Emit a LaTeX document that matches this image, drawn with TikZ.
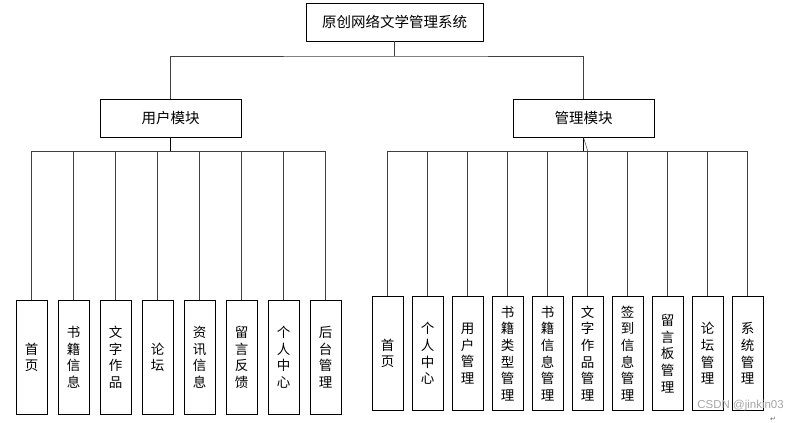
\documentclass[tikz,border=0pt]{standalone}
\usepackage{fontspec}
\setmainfont{Noto Sans CJK SC}
\newfontfamily\wmfont{Liberation Sans}
\newfontfamily\symfont{DejaVu Sans}
\begin{document}
\begin{tikzpicture}[x=1pt,y=-1pt,
  box/.style={draw=black,line width=0.9pt,fill=white,inner sep=0pt,font=\fontsize{14.5}{16}\selectfont},
  leaf/.style={box,minimum width=31pt,align=center,font=\fontsize{13.5}{16.7}\selectfont},
  conn/.style={draw=black!75,line width=0.9pt}]
\useasboundingbox (0,0) rectangle (798,423);
\fill[white] (0,0) rectangle (798,423);
% top and modules
\node[box,minimum width=177pt,minimum height=38pt] (top) at (394.5,22) {原创网络文学管理系统};
\node[box,minimum width=141pt,minimum height=38pt] (user) at (170.5,118) {用户模块};
\node[box,minimum width=141pt,minimum height=38pt] (admin) at (583.5,118) {管理模块};
\coordinate (j0) at (394.5,56);
\draw[conn] (top.south) -- (j0);
\draw[conn] (user.north) |- (j0) -| (admin.north);
% user children
\foreach \t [count=\i from 0] in {首\\页,书\\籍\\信\\息,文\\字\\作\\品,论\\坛,资\\讯\\信\\息,留\\言\\反\\馈,个\\人\\中\\心,后\\台\\管\\理}{
  \node[leaf,minimum height=114.7pt] (uc\i) at (31.5+42*\i,357.3) {\t};
}
\coordinate (ju) at (170.5,151);
\draw[conn,draw=black] (user.south) -- (ju);
\foreach \i in {0,...,7}{\draw[conn] (ju) -| (uc\i.north);}
% admin children
\foreach \t [count=\i from 0] in {首\\页,个\\人\\中\\心,用\\户\\管\\理,书\\籍\\类\\型\\管\\理,书\\籍\\信\\息\\管\\理,文\\字\\作\\品\\管\\理,签\\到\\信\\息\\管\\理,留\\言\\板\\管\\理,论\\坛\\管\\理,系\\统\\管\\理}{
  \node[leaf,minimum height=114.4pt] (ac\i) at (387.7+40*\i,353.5) {\t};
}
\coordinate (ja) at (583.5,151);
\draw[conn,draw=black] (admin.south) -- (ja);
\foreach \i in {0,...,9}{\draw[conn] (ja) -| (ac\i.north);}
\draw[conn,line width=0.5pt] (admin.south) -- (ac5.north |- ja);
% watermark
\node[font=\wmfont\fontsize{11.5}{12}\selectfont,text=black!35,anchor=east,inner sep=0pt] (wm) at (784,406) {CSDN @jinkin03};
\node[font=\symfont\fontsize{7}{8}\selectfont,text=black!60,inner sep=0pt] (pm) at (773,419) {↵};
\end{tikzpicture}
\end{document}
